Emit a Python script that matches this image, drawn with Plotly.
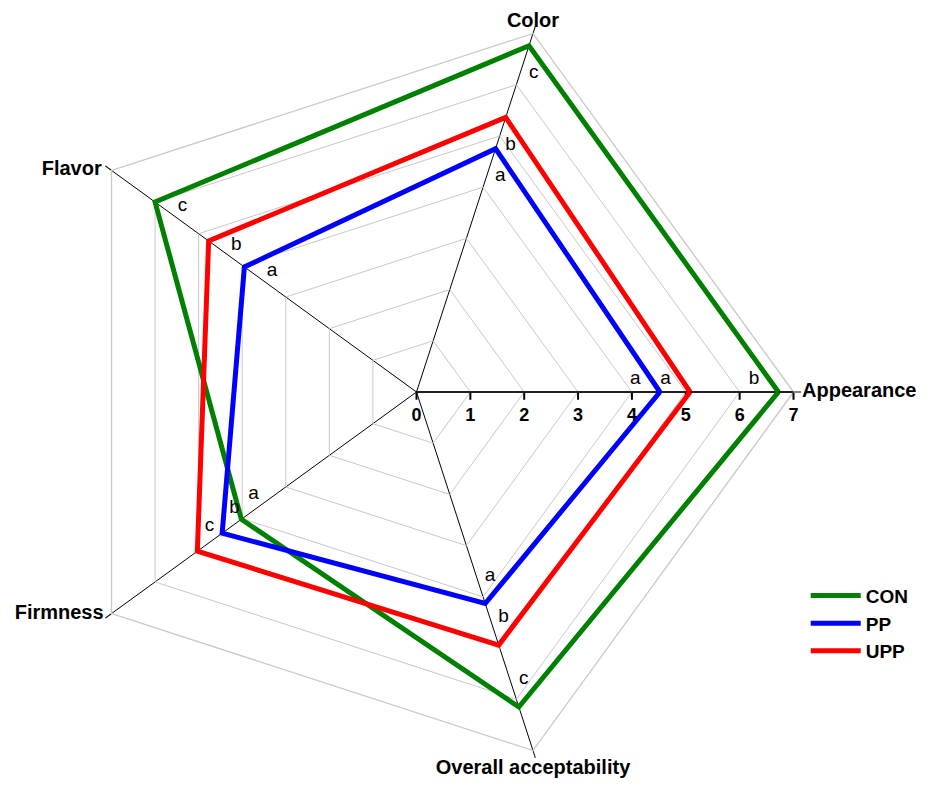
import math
import plotly.graph_objects as go

# ---- data ----
attributes = ["Appearance", "Color", "Flavor", "Firmness", "Overall acceptability"]
series_names = ["CON", "PP", "UPP"]
con_values = [6.72, 6.76, 6.00, 4.02, 6.15]
pp_values = [4.52, 4.75, 3.95, 4.46, 4.13]
upp_values = [5.08, 5.36, 4.77, 5.03, 4.94]
con_letters = ["b", "c", "c", "a", "c"]
pp_letters = ["a", "a", "a", "b", "a"]
upp_letters = ["a", "b", "b", "c", "b"]
radial_ticks = [0, 1, 2, 3, 4, 5, 6, 7]

# ---- style ----
colors = {"CON": "#008000", "PP": "#0000ff", "UPP": "#ff0000"}
FONT = "Liberation Sans, Arial, sans-serif"
R_MAX = 7
PX_PER_UNIT = 53.8          # approx pixel size of one radial unit
LABEL_BACK = 0.45           # letter sits this far inside the vertex
LABEL_SIDE_PX = 13          # perpendicular offset of letter from spoke
label_side = [1, -1, -1, -1, 1]  # +1 counterclockwise side, -1 clockwise
axis_label_pos = ["middle right", "top center", "middle left", "middle left", "bottom center"]
axis_label_gap = [12, 1, 14, 11, 12]   # invisible marker sizes -> text gap

values = {"CON": con_values, "PP": pp_values, "UPP": upp_values}
letters = {"CON": con_letters, "PP": pp_letters, "UPP": upp_letters}

W, H = 933, 793
PAGE_OFFSET = 8             # page body margin shifts the figure
cx, cy, rad = 416.5 - PAGE_OFFSET, 392 - PAGE_OFFSET, 377
dom_x = [(cx - rad) / W, (cx + rad) / W]
dom_y = [(H - (cy + rad)) / H, (H - (cy - rad)) / H]

fig = go.Figure()

for name in series_names:
    v = values[name]
    fig.add_trace(go.Scatterpolar(
        r=v + [v[0]], theta=attributes + [attributes[0]],
        mode="lines", name=name,
        line=dict(color=colors[name], width=5),
        subplot="polar", hoverinfo="skip",
    ))

# axis (attribute) labels, placed at the outer vertices
fig.add_trace(go.Scatterpolar(
    r=[R_MAX] * len(attributes), theta=attributes,
    mode="markers+text", text=attributes, textposition=axis_label_pos,
    marker=dict(size=axis_label_gap, color="rgba(0,0,0,0)",
                line=dict(width=0)),
    textfont=dict(family=FONT, size=20, color="black", weight="bold"),
    cliponaxis=False, showlegend=False, subplot="polar", hoverinfo="skip",
))

# significance letters on an overlaid linear-angle polar
n = len(attributes)
for name in series_names:
    v = values[name]
    rs, ths = [], []
    for i, val in enumerate(v):
        r = val - LABEL_BACK
        dtheta = math.degrees(LABEL_SIDE_PX / (r * PX_PER_UNIT))
        rs.append(r)
        ths.append(i * 360 / n + label_side[i] * dtheta)
    fig.add_trace(go.Scatterpolar(
        r=rs, theta=ths, mode="text", text=letters[name],
        textfont=dict(family=FONT, size=19, color="black"),
        textposition="middle center",
        showlegend=False, subplot="polar2", hoverinfo="skip",
    ))

fig.update_layout(
    width=W, height=H,
    margin=dict(l=0, r=0, t=0, b=0),
    paper_bgcolor="white",
    font=dict(family=FONT, color="black"),
    polar=dict(
        domain=dict(x=dom_x, y=dom_y),
        bgcolor="white",
        gridshape="linear",
        radialaxis=dict(
            range=[0, R_MAX], tickvals=radial_ticks,
            ticktext=[str(t) for t in radial_ticks],
            angle=0, side="clockwise",
            showline=True, linecolor="black", linewidth=1.5,
            ticks="outside", ticklen=7, tickcolor="black", tickwidth=1.5,
            tickfont=dict(family=FONT, size=18, color="black", weight="bold"),
            gridcolor="#c8c8c8", gridwidth=1.3,
            layer="below traces",
        ),
        angularaxis=dict(
            type="category", categoryarray=attributes,
            rotation=0, direction="counterclockwise",
            showline=True, linecolor="#c8c8c8", linewidth=1.3,
            gridcolor="black", gridwidth=1.3,
            ticks="outside", ticklen=7, tickcolor="black", tickwidth=1.3,
            showticklabels=False,
            layer="below traces",
        ),
    ),
    polar2=dict(
        domain=dict(x=dom_x, y=dom_y),
        bgcolor="rgba(0,0,0,0)",
        radialaxis=dict(range=[0, R_MAX], visible=False),
        angularaxis=dict(visible=False, rotation=0, direction="counterclockwise",
                         thetaunit="degrees"),
    ),
    legend=dict(
        x=0.855, y=0.283, xanchor="left", yanchor="top",
        itemwidth=50,
        font=dict(family=FONT, size=19, color="black", weight="bold"),
        bgcolor="rgba(0,0,0,0)", borderwidth=0,
    ),
    showlegend=True,
)

fig.write_html("out.html")
